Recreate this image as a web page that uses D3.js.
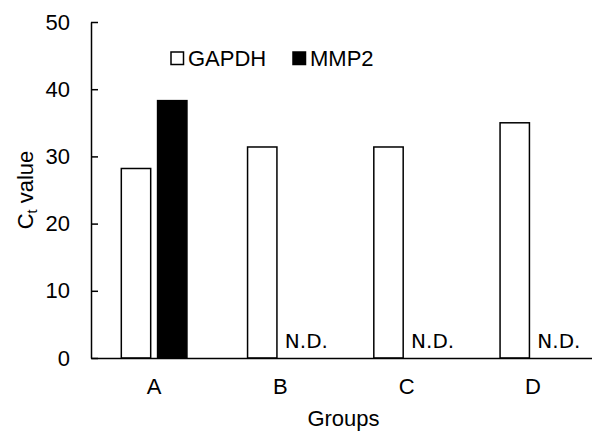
<!DOCTYPE html>
<html>
<head>
<meta charset="utf-8">
<script src="https://cdn.jsdelivr.net/npm/d3@7.9.0/dist/d3.min.js"></script>
<style>
  body { margin: 0; background: #fff; }
  svg { display: block; font-family: "Liberation Sans", Arial, sans-serif; }
</style>
</head>
<body>
<svg id="chart" width="592" height="432"></svg>
<script>
// data
const groups = ['A', 'B', 'C', 'D'];
const series = ['GAPDH', 'MMP2'];
const gapdh = [28.2, 31.4, 31.4, 35.0];
const mmp2 = [38.3, null, null, null];   // null = not detected
const yTicks = [0, 10, 20, 30, 40, 50];

const width = 592;
const height = 432;
const margin = { top: 22, right: -4, bottom: 74, left: 91 };
const fontSize = 22;

const svg = d3.select('#chart');

const x0 = d3.scaleBand()
  .domain(groups)
  .range([margin.left, width - margin.right]);

const x1 = d3.scaleBand()
  .domain(series)
  .range([0, x0.bandwidth()])
  .paddingInner(0.19)
  .paddingOuter(0.836);

const y = d3.scaleLinear()
  .domain([0, 50])
  .range([height - margin.bottom, margin.top]);

const fill = { GAPDH: '#fff', MMP2: '#000' };

// rows for the bars
const rows = groups.map((g, i) => ({ group: g, GAPDH: gapdh[i], MMP2: mmp2[i] }));

// bars
const gBars = svg.append('g');
gBars.selectAll('g')
  .data(rows)
  .join('g')
  .attr('transform', (d) => `translate(${x0(d.group)},0)`)
  .selectAll('rect')
  .data((d) => series.map((s) => ({ key: s, value: d[s] })).filter((d) => d.value != null))
  .join('rect')
  .attr('x', (d) => x1(d.key))
  .attr('width', x1.bandwidth())
  .attr('y', (d) => y(d.value))
  .attr('height', (d) => y(0) - y(d.value))
  .attr('fill', (d) => fill[d.key])
  .attr('stroke', '#000')
  .attr('stroke-width', 1.5);

// N.D. labels
svg.append('g')
  .selectAll('text')
  .data(rows.filter((d) => d.MMP2 == null))
  .join('text')
  .attr('x', (d) => x0(d.group) + x1('MMP2') + 1)
  .attr('y', y(0) - 10)
  .attr('font-family', '"DejaVu Sans", sans-serif')
  .attr('font-size', 20)
  .attr('fill', '#000')
  .text('N.D.');

// y axis, ticks pointing inward
const yAxis = svg.append('g')
  .attr('transform', `translate(${margin.left},0)`)
  .call(d3.axisLeft(y).tickValues(yTicks).tickSize(-7).tickPadding(21).tickSizeOuter(0));
yAxis.select('.domain').attr('stroke-width', 1.5);
yAxis.selectAll('.tick line').attr('stroke-width', 1.5);
yAxis.selectAll('.tick text')
  .attr('font-size', fontSize)
  .attr('font-family', '"Liberation Sans", Arial, sans-serif')
  .attr('fill', '#000');

// x axis
const xAxis = svg.append('g')
  .attr('transform', `translate(0,${y(0)})`)
  .call(d3.axisBottom(x0).tickSize(0).tickPadding(20));
xAxis.select('.domain').attr('stroke-width', 1.5);
xAxis.selectAll('.tick text')
  .attr('font-size', fontSize)
  .attr('font-family', '"Liberation Sans", Arial, sans-serif')
  .attr('fill', '#000');

// axis titles
svg.append('text')
  .attr('x', (margin.left + width - margin.right) / 2)
  .attr('y', 426)
  .attr('text-anchor', 'middle')
  .attr('font-size', fontSize)
  .text('Groups');

const yTitle = svg.append('text')
  .attr('transform', `translate(33,${(y(0) + y(50)) / 2}) rotate(-90)`)
  .attr('text-anchor', 'middle')
  .attr('font-size', fontSize);
yTitle.append('tspan').text('C');
yTitle.append('tspan').attr('font-size', 14.5).attr('dy', 4).text('t');
yTitle.append('tspan').attr('dy', -4).text(' value');

// legend
const legend = svg.append('g');
const legendX = [171, 293];
series.forEach((s, i) => {
  legend.append('rect')
    .attr('x', legendX[i])
    .attr('y', 52)
    .attr('width', 12.5)
    .attr('height', 12.5)
    .attr('fill', fill[s])
    .attr('stroke', '#000')
    .attr('stroke-width', 1.5);
  legend.append('text')
    .attr('x', legendX[i] + 17)
    .attr('y', 65.5)
    .attr('font-size', fontSize)
    .text(s);
});
</script>
</body>
</html>
